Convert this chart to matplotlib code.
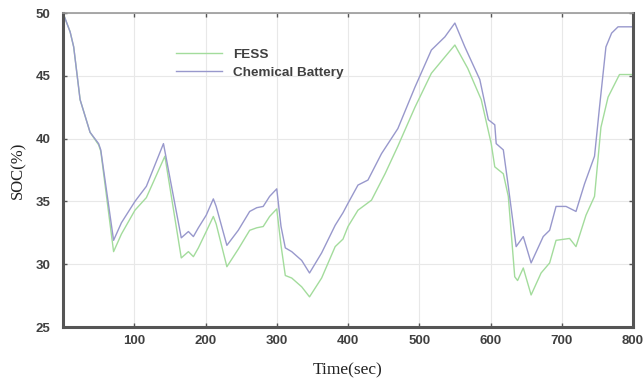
import matplotlib
matplotlib.use("Agg")
import matplotlib.pyplot as plt

# ---- data ----
t_battery = [0, 10, 15, 24, 38, 50, 53, 71, 82, 101, 117, 141, 166, 176, 183, 190,
             201, 211, 215, 230, 246, 262, 272, 281, 290, 300, 306, 312, 321, 335,
             346, 363, 382, 393, 400, 414, 428, 447, 470, 494, 517, 536, 550, 564,
             585, 597, 606, 608, 618, 625, 636, 646, 657, 674, 683, 692, 706, 720,
             732, 746, 753, 762, 770, 779, 800]
soc_battery = [50, 48.5, 47.3, 43.1, 40.5, 39.6, 39.1, 31.9, 33.3, 35.0, 36.2, 39.6,
               32.1, 32.6, 32.2, 32.9, 33.9, 35.2, 34.6, 31.5, 32.7, 34.2, 34.5, 34.6,
               35.4, 36.0, 33.0, 31.3, 31.0, 30.3, 29.3, 30.9, 33.1, 34.1, 34.85, 36.3,
               36.7, 38.8, 40.8, 44.1, 47.05, 48.1, 49.2, 47.3, 44.7, 41.5, 41.1, 39.6,
               39.1, 36.2, 31.4, 32.2, 30.1, 32.2, 32.7, 34.6, 34.6, 34.2, 36.4, 38.6,
               42.5, 47.3, 48.4, 48.9, 48.9]

t_fess = [0, 10, 15, 24, 38, 50, 53, 71, 82, 101, 117, 143, 166, 176, 183, 190,
          201, 211, 215, 230, 246, 262, 272, 281, 290, 300, 306, 312, 321, 335,
          346, 363, 382, 393, 400, 414, 433, 452, 470, 494, 517, 536, 550, 568,
          587, 601, 606, 618, 625, 634, 638, 646, 657, 671, 683, 692, 711, 720,
          734, 746, 755, 765, 781, 800]
soc_fess = [50, 48.5, 47.3, 43.1, 40.5, 39.5, 39.0, 31.0, 32.4, 34.3, 35.3, 38.6,
            30.5, 31.0, 30.6, 31.3, 32.6, 33.8, 33.2, 29.8, 31.2, 32.7, 32.9, 33.0,
            33.8, 34.4, 31.5, 29.1, 28.9, 28.2, 27.4, 28.9, 31.4, 32.0, 33.0, 34.3,
            35.1, 37.2, 39.4, 42.5, 45.2, 46.5, 47.45, 45.6, 43.1, 39.6, 37.75, 37.2,
            35.4, 29.0, 28.7, 29.7, 27.55, 29.3, 30.1, 31.9, 32.05, 31.4, 33.9, 35.4,
            40.9, 43.3, 45.1, 45.1]

series_labels = ["FESS", "Chemical Battery"]
x_ticks = [100, 200, 300, 400, 500, 600, 700, 800]
y_ticks = [25, 30, 35, 40, 45, 50]

# ---- figure ----
fig = plt.figure(figsize=(6.44, 3.79), dpi=100)
ax = fig.add_axes([63 / 644, 1 - 327 / 379, (633 - 63) / 644, (327 - 13) / 379])

ax.plot(t_fess, soc_fess, color="#a3dc9c", lw=1.0, label=series_labels[0])
ax.plot(t_battery, soc_battery, color="#9898cc", lw=1.0, label=series_labels[1])

ax.set_xlim(0, 800)
ax.set_ylim(25, 50)
ax.set_xticks(x_ticks)
ax.set_yticks(y_ticks)
ax.grid(True, color="#e8e8e8", lw=0.8)
ax.set_axisbelow(True)

tick_font = dict(family="Liberation Sans", weight="bold", size=9.5)
ax.set_xticklabels([str(v) for v in x_ticks], fontdict=tick_font, color="#404040")
ax.set_yticklabels([str(v) for v in y_ticks], fontdict=tick_font, color="#404040")
ax.tick_params(direction="in", length=3, width=1, color="#555555",
               top=True, right=True)
ax.tick_params(axis="x", pad=6)
ax.tick_params(axis="y", pad=9)

for side in ["left", "bottom", "right"]:
    ax.spines[side].set_color("#555555")
    ax.spines[side].set_linewidth(2.2)
ax.spines["top"].set_color("#999999")
ax.spines["top"].set_linewidth(1.2)

ax.set_xlabel("Time(sec)", family="Liberation Serif", size=12.5, color="#222222",
              labelpad=11)
ax.set_ylabel("SOC(%)", family="Liberation Serif", size=12, color="#222222",
              labelpad=7)

leg = ax.legend(loc="upper left", bbox_to_anchor=(0.189, 0.905), frameon=False,
                prop=dict(family="Liberation Sans", weight="bold", size=9.7),
                handlelength=3.4, handletextpad=0.8, labelspacing=0.45,
                borderaxespad=0)
for txt in leg.get_texts():
    txt.set_color("#404040")

fig.savefig("out.png", dpi=100)
